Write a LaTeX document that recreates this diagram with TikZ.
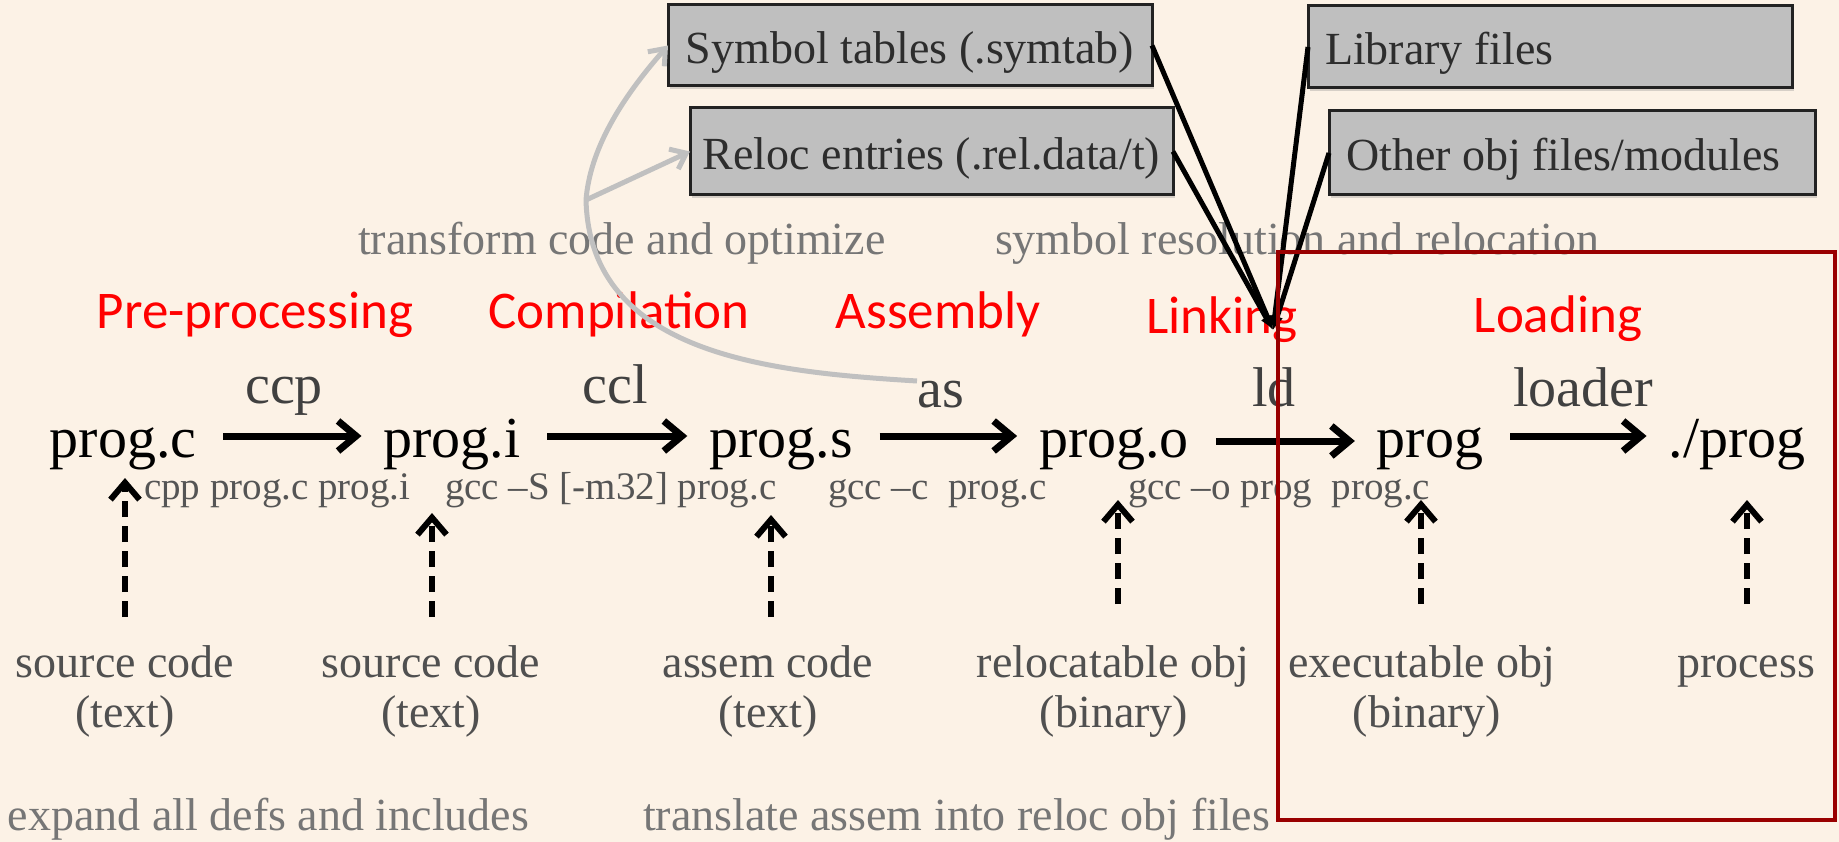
\documentclass[tikz,border=0pt]{standalone}
\usepackage{fontspec}
\setmainfont{Liberation Serif}
\newfontfamily\phasefont{Carlito}
\usetikzlibrary{arrows.meta,shadows}
\definecolor{bgcol}{RGB}{252,242,230}
\definecolor{boxgray}{RGB}{191,191,191}
\definecolor{boxline}{RGB}{34,34,34}
\definecolor{boxtext}{RGB}{45,45,45}
\definecolor{framered}{RGB}{153,0,0}
\definecolor{toolgray}{RGB}{64,64,64}
\definecolor{cmdgray}{RGB}{85,85,85}
\definecolor{descgray}{RGB}{80,80,80}
\definecolor{phgray}{RGB}{118,118,118}
\definecolor{arrgray}{RGB}{192,192,192}
\begin{document}
\begin{tikzpicture}[x=1pt,y=-1pt,
  every node/.style={inner sep=0pt,outer sep=0pt},
  mainlbl/.style={anchor=base,font={\fontsize{58}{60}\selectfont}},
  toollbl/.style={anchor=base,text=toolgray,font={\fontsize{56}{58}\selectfont}},
  cmdlbl/.style={anchor=base west,text=cmdgray,font={\fontsize{39}{41}\selectfont}},
  desclbl/.style={anchor=base,text=descgray,font={\fontsize{46}{48}\selectfont}},
  phaselbl/.style={anchor=base west,text=phgray,font={\fontsize{46}{48}\selectfont}},
  stagelbl/.style={anchor=base,text=red,font={\phasefont\fontsize{53}{55}\selectfont}},
  graybox/.style={draw=boxline,line width=3pt,fill=boxgray,text=boxtext,
    font={\fontsize{46}{48}\selectfont},text height=41pt,text depth=5pt,
    drop shadow={shadow xshift=2pt,shadow yshift=-3pt,opacity=0.3}},
  mainarrow/.style={line width=7pt,-{Straight Barb[length=18pt,width=30pt,line width=7pt]},
    shorten <=27pt,shorten >=22pt},
  uparrow/.style={line width=6pt,dash pattern=on 16pt off 9pt,
    -{Straight Barb[length=17pt,width=29pt,line width=6pt]}},
  linkline/.style={line width=5pt,-{Latex[length=14pt,width=12pt]}},
  grayarrow/.style={draw=arrgray,line width=5pt,
    -{Straight Barb[length=14pt,width=22pt,line width=5pt]}},
  redframe/.style={draw=framered,line width=4.5pt}
]
\useasboundingbox (0,0) rectangle (1839,842);
\fill[bgcol] (0,0) rectangle (1839,842);

% gray boxes
\node[graybox,minimum width=484pt,minimum height=81pt] (sym) at (910,45.5) {Symbol tables (.symtab)};
\node[graybox,minimum width=483pt,minimum height=87pt] (reloc) at (931.5,151.5) {Reloc entries (.rel.data/t)};
\node[graybox,anchor=west,text width=450pt,inner xsep=17pt,minimum height=82pt,align=flush left] (lib) at (1308,47) {Library files};
\node[graybox,anchor=west,text width=452pt,inner xsep=17pt,minimum height=84pt,align=flush left] (oth) at (1329,153) {Other obj files/modules};

% phase descriptions
\node[phaselbl] (tcode) at (358,255) {transform code and optimize};
\node[phaselbl] (tsym) at (995,255) {symbol resolution and relocation};
\node[phaselbl] (texp) at (8,830) {expand all defs and includes};
\node[phaselbl] (ttra) at (643,830) {translate assem into reloc obj files};

% stages
\node[stagelbl] (spre) at (255,328) {Pre-processing};
\node[stagelbl] (scomp) at (619,328) {Compilation};
\node[stagelbl] (sasm) at (938,328) {Assembly};
\node[stagelbl] (slink) at (1222,334) {Linking};
\node[stagelbl] (sload) at (1558,332) {Loading};

% main files
\node[mainlbl] (pc) at (123,457) {prog.c};
\node[mainlbl] (pi) at (452,457) {prog.i};
\node[mainlbl] (ps) at (781,457) {prog.s};
\node[mainlbl] (po) at (1114,457) {prog.o};
\node[mainlbl] (pg) at (1430,457) {prog};
\node[mainlbl] (rp) at (1737,457) {./prog};

% tools
\node[toollbl] (lccp) at (284,403) {ccp};
\node[toollbl] (lccl) at (615,403) {ccl};
\node[toollbl] (las) at (941,407) {as};
\node[toollbl] (lld) at (1274,406) {ld};
\node[toollbl] (lload) at (1583,406) {loader};

% commands
\node[cmdlbl] (c1) at (144,499) {cpp prog.c prog.i};
\node[cmdlbl] (c2) at (445,499) {gcc –S [-m32] prog.c};
\node[cmdlbl] (c3) at (828,499) {gcc –c\ \ prog.c};
\node[cmdlbl] (c4) at (1128,499) {gcc –o prog\ \ prog.c};

% descriptions
\node[desclbl] (d1a) at (125,677) {source code};
\node[desclbl] (d1b) at (125,727) {(text)};
\node[desclbl] (d2a) at (431,677) {source code};
\node[desclbl] (d2b) at (431,727) {(text)};
\node[desclbl] (d3a) at (768,677) {assem code};
\node[desclbl] (d3b) at (768,727) {(text)};
\node[desclbl] (d4a) at (1113,677) {relocatable obj};
\node[desclbl] (d4b) at (1114,727) {(binary)};
\node[desclbl] (d5a) at (1422,677) {executable obj};
\node[desclbl] (d5b) at (1427,727) {(binary)};
\node[desclbl] (d6a) at (1746,677) {process};

% main arrows
\coordinate (ay) at (0,436);
\coordinate (ay4) at (0,441);
\draw[mainarrow] (pc.east |- ay) -- (pi.west |- ay);
\draw[mainarrow] (pi.east |- ay) -- (ps.west |- ay);
\draw[mainarrow] (ps.east |- ay) -- (po.west |- ay);
\draw[mainarrow] (po.east |- ay4) -- (pg.west |- ay4);
\draw[mainarrow] (pg.east |- ay) -- (rp.west |- ay);

% dashed up arrows
\coordinate (u1b) at (125,617); \coordinate (u1t) at (125,478);
\coordinate (u2b) at (432,617); \coordinate (u2t) at (432,513);
\coordinate (u3b) at (771,617); \coordinate (u3t) at (771,515);
\coordinate (u4b) at (1118,604); \coordinate (u4t) at (1118,500);
\coordinate (u5b) at (1421,604); \coordinate (u5t) at (1421,500);
\coordinate (u6b) at (1747,604); \coordinate (u6t) at (1747,500);
\draw[uparrow] (u1b) -- (u1t);
\draw[uparrow] (u2b) -- (u2t);
\draw[uparrow] (u3b) -- (u3t);
\draw[uparrow] (u4b) -- (u4t);
\draw[uparrow] (u5b) -- (u5t);
\draw[uparrow] (u6b) -- (u6t);

% gray curved arrows
\coordinate (gstart) at (917,381);
\coordinate (gbranch) at (586,200);
\draw[grayarrow] (gstart) .. controls (770,372) and (590,355) .. (gbranch)
  .. controls (590,150) and (620,100) .. (sym.west);
\draw[grayarrow] (gbranch) -- (reloc.west);

% link lines
\coordinate (conv) at (1273,330);
\draw[linkline] (sym.east) -- (conv);
\draw[linkline] (reloc.east) -- (conv);
\draw[linkline] (lib.west) -- (conv);
\draw[linkline] (oth.west) -- (conv);

% red frame
\draw[redframe] (1278,252) rectangle (1835,820);
\end{tikzpicture}
\end{document}
